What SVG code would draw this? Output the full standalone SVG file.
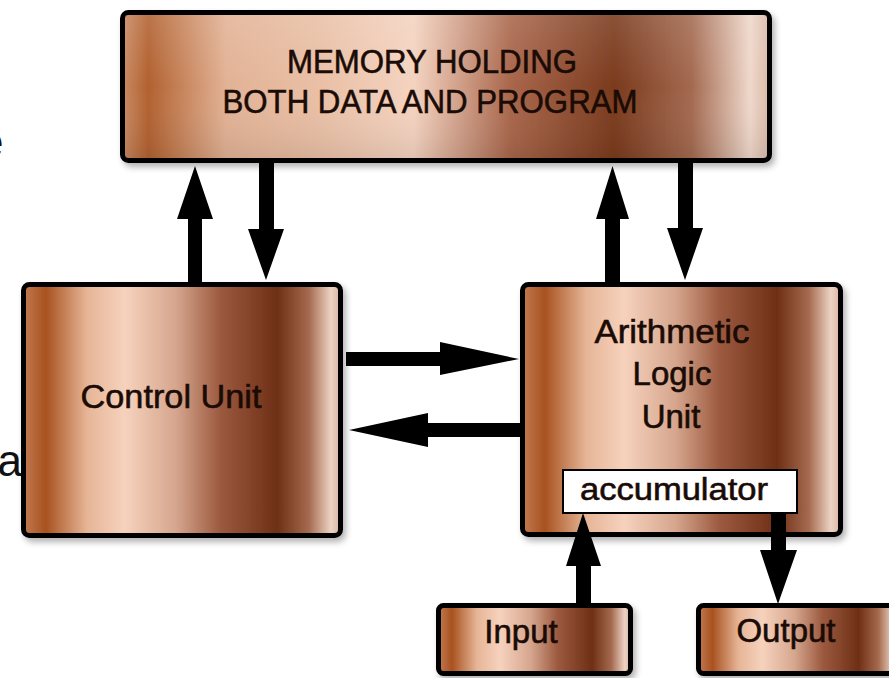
<svg xmlns="http://www.w3.org/2000/svg" width="889" height="678" viewBox="0 0 889 678">
  <defs>
    <linearGradient id="copper" x1="0" y1="0" x2="1" y2="0">
      <stop offset="0" stop-color="#c27a52"/>
      <stop offset="0.07" stop-color="#a8521f"/>
      <stop offset="0.2" stop-color="#e6b597"/>
      <stop offset="0.32" stop-color="#f6d2bd"/>
      <stop offset="0.48" stop-color="#d6a68e"/>
      <stop offset="0.62" stop-color="#9c5a40"/>
      <stop offset="0.8" stop-color="#6e2f15"/>
      <stop offset="0.9" stop-color="#a56a4f"/>
      <stop offset="0.97" stop-color="#ecd3c4"/>
      <stop offset="1" stop-color="#d8b4a0"/>
    </linearGradient>
    <linearGradient id="copperMem" x1="0" y1="0" x2="1" y2="0">
      <stop offset="0" stop-color="#c98a64"/>
      <stop offset="0.04" stop-color="#b2612f"/>
      <stop offset="0.16" stop-color="#e2b295"/>
      <stop offset="0.3" stop-color="#e9bfa5"/>
      <stop offset="0.45" stop-color="#f4d3c0"/>
      <stop offset="0.6" stop-color="#a9664b"/>
      <stop offset="0.76" stop-color="#7a3a1d"/>
      <stop offset="0.88" stop-color="#a46a50"/>
      <stop offset="0.97" stop-color="#efd8cb"/>
      <stop offset="1" stop-color="#d9b8a6"/>
    </linearGradient>
    <linearGradient id="vshade" x1="0" y1="0" x2="0" y2="1">
      <stop offset="0" stop-color="#fff" stop-opacity="0.12"/>
      <stop offset="0.5" stop-color="#fff" stop-opacity="0"/>
      <stop offset="1" stop-color="#000" stop-opacity="0.08"/>
    </linearGradient>
    <filter id="shadow" x="-5%" y="-5%" width="115%" height="120%">
      <feDropShadow dx="3" dy="4" stdDeviation="3" flood-color="#000" flood-opacity="0.3"/>
    </filter>
  </defs>
  <style>
    .box { stroke: #000; stroke-width: 5; }
    .lbl { font-family: "Liberation Sans", Arial, sans-serif; fill: #1a0b05; stroke: #1a0b05; stroke-width: 0.6; text-anchor: middle; }
    .arrow { fill: #000; }
    .stray { font-family: "Liberation Sans", Arial, sans-serif; fill: #111; font-size: 44px; }
  </style>
  <rect width="889" height="678" fill="#ffffff"/>

  <text class="stray" x="-21" y="157">e</text>
  <text class="stray" x="22" y="476" text-anchor="end">a</text>

  <g id="memory">
    <rect class="box" x="122.5" y="12.5" width="647" height="148" rx="6" fill="url(#copperMem)" filter="url(#shadow)"/>
    <rect x="125" y="15" width="642" height="143" fill="url(#vshade)"/>
    <text class="lbl" x="432" y="73" font-size="33" textLength="290" lengthAdjust="spacingAndGlyphs">MEMORY HOLDING</text>
    <text class="lbl" x="430" y="113" font-size="33" textLength="415" lengthAdjust="spacingAndGlyphs">BOTH DATA AND PROGRAM</text>
  </g>

  <g id="control">
    <rect class="box" x="23.5" y="284.5" width="317" height="251" rx="6" fill="url(#copper)" filter="url(#shadow)"/>
    <text class="lbl" x="171" y="408" font-size="34" textLength="181" lengthAdjust="spacingAndGlyphs">Control Unit</text>
  </g>

  <g id="alu">
    <rect class="box" x="522.5" y="284.5" width="318" height="250" rx="6" fill="url(#copper)" filter="url(#shadow)"/>
    <text class="lbl" x="672" y="343" font-size="33" textLength="155" lengthAdjust="spacingAndGlyphs">Arithmetic</text>
    <text class="lbl" x="672" y="385" font-size="33">Logic</text>
    <text class="lbl" x="671" y="428" font-size="33">Unit</text>
  </g>

  <g id="accumulator">
    <rect x="563" y="470" width="234" height="43" fill="#ffffff" stroke="#000" stroke-width="2"/>
    <text class="lbl" x="674" y="500" font-size="32" textLength="188" lengthAdjust="spacingAndGlyphs">accumulator</text>
  </g>

  <g id="input">
    <rect class="box" x="438.5" y="605.5" width="192" height="68" rx="5" fill="url(#copper)" filter="url(#shadow)"/>
    <text class="lbl" x="521" y="643" font-size="33">Input</text>
  </g>

  <g id="output">
    <rect class="box" x="698.5" y="605.5" width="200" height="68" rx="5" fill="url(#copper)" filter="url(#shadow)"/>
    <text class="lbl" x="786" y="642" font-size="33">Output</text>
  </g>

  <g id="connectors">
    <path class="arrow" d="M188,284 V219 H177 L195,166 L213,219 H202 V284 Z"/>
    <path class="arrow" d="M259,162 V229 H248 L266,280 L284,229 H274 V162 Z"/>
    <path class="arrow" d="M605,284 V219 H596 L612.5,166 L629,219 H620 V284 Z"/>
    <path class="arrow" d="M678,162 V228 H667 L685,280 L703,228 H693 V162 Z"/>
    <path class="arrow" d="M346,352 H440 V342 L519,359 L440,375 V366 H346 Z"/>
    <path class="arrow" d="M521,423 H428 V413 L349,430 L428,447 V437 H521 Z"/>
    <path class="arrow" d="M576,604 V566 H566 L583,513 L601,566 H591 V604 Z"/>
    <path class="arrow" d="M771,513 V550 H760 L778,604 L797,550 H786 V513 Z"/>
  </g>
</svg>
